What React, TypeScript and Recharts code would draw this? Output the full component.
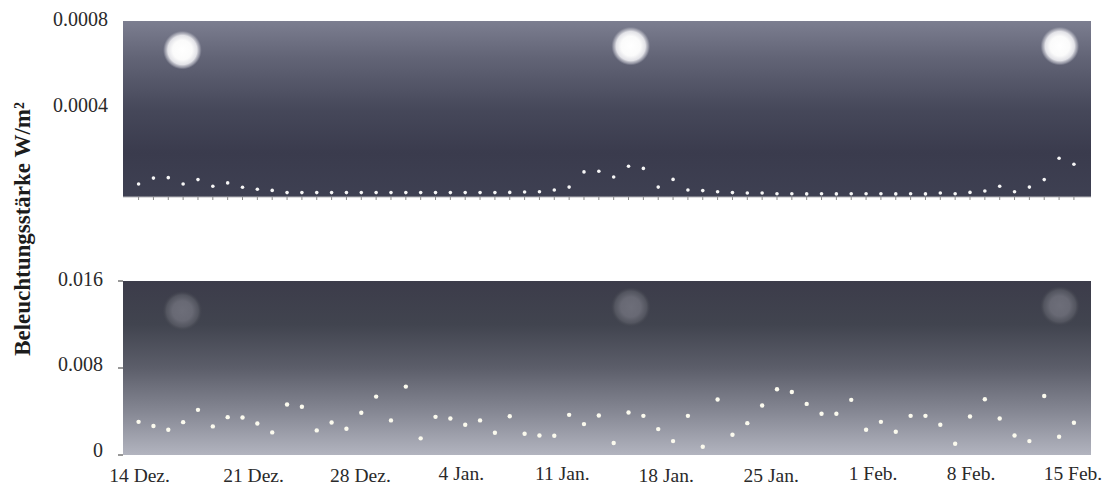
import { ScatterChart, Scatter, XAxis, YAxis, CartesianGrid } from "recharts";

const serif = "'Liberation Serif', serif";

// one reading per day, 14 Dez. to 15 Feb.
const moonlitValues = [
  0.000059, 0.000086, 0.000088, 0.000059, 0.000079, 0.000049, 0.000064, 0.000044, 0.000035, 0.00003,
  0.00002, 0.00002, 0.00002, 0.00002, 0.00002, 0.00002, 0.00002, 0.00002, 0.00002, 0.00002,
  0.00002, 0.00002, 0.00002, 0.00002, 0.00002, 0.000021, 0.000023, 0.000024, 0.000032, 0.000045,
  0.000114, 0.000117, 0.000091, 0.00014, 0.00013, 0.000045, 0.00008, 0.000032, 0.000029, 0.000024,
  0.00002, 0.000018, 0.000018, 0.000015, 0.000015, 0.000014, 0.000015, 0.000014, 0.000015, 0.000015,
  0.000015, 0.000014, 0.000015, 0.000014, 0.000018, 0.000015, 0.000021, 0.000027, 0.000049, 0.000024,
  0.000045, 0.000079, 0.000176, 0.000149,
];
const lowerValues = [
  0.00305, 0.00266, 0.00232, 0.00302, 0.00415, 0.00263, 0.00348, 0.00345, 0.0029, 0.00208,
  0.00464, 0.00443, 0.00226, 0.00299, 0.00241, 0.00388, 0.00537, 0.00318, 0.00629, 0.00153,
  0.00351, 0.00336, 0.00278, 0.00318, 0.00205, 0.00357, 0.00195, 0.0018, 0.00177, 0.00369,
  0.00284, 0.00363, 0.0011, 0.00391, 0.0036, 0.00238, 0.00128, 0.0036, 0.00076, 0.0051,
  0.00186, 0.00293, 0.00455, 0.00604, 0.0058, 0.0047, 0.00379, 0.00379, 0.00507, 0.00232,
  0.00305, 0.00214, 0.0036, 0.0036, 0.00278, 0.00104, 0.00354, 0.00513, 0.00336, 0.0018,
  0.00128, 0.00543, 0.00168, 0.00296,
];

const moonDays = [2.95, 33.15, 62.05];
const moonTopValues = [0.000668, 0.000686, 0.000686];
const moonLowerValues = [0.01325, 0.0136, 0.0137];

const dayTicks = moonlitValues.map((_, i) => i);
const weekTicks = [0, 7, 14, 21, 28, 35, 42, 49, 56, 63];
const weekLabels = ["14 Dez.", "21 Dez.", "28 Dez.", "4 Jan.", "11 Jan.", "18 Jan.", "25 Jan.", "1 Feb.", "8 Feb.", "15 Feb."];
const topYTicks = [0.0004, 0.0008];
const lowerYTicks = [0, 0.008, 0.016];
const dayDomain = [-1.05, 64.15];

// hand placement of the labels in the original
const weekLabelDx = [1, 11, 14, 11, 8, 8, 9, 7, 1, -1];
const weekLabelDy = [0, 0, 0, -2, -2, 0, 0, -2, -2, -2];

const toRows = (values: number[]) => values.map((value, i) => ({ day: i, value }));
const moonRows = (values: number[]) => values.map((value, i) => ({ day: moonDays[i], value }));

function NoLabel() {
  return <g />;
}

function TopYTick({ x, y, payload }: any) {
  const dy = payload.value === 0.0004 ? 3 : 5;
  return (
    <text x={x} y={y + dy} textAnchor="end" fontFamily={serif} fontSize={20} fill="#2a2a2a">
      {payload.value.toFixed(4)}
    </text>
  );
}

function LowerYTick({ x, y, payload }: any) {
  const label = payload.value === 0 ? "0" : payload.value.toFixed(3);
  const dy = payload.value === 0 ? 1.5 : payload.value === 0.008 ? 3 : 5;
  return (
    <text x={x} y={y + dy} textAnchor="end" fontFamily={serif} fontSize={20} fill="#2a2a2a">
      {label}
    </text>
  );
}

function WeekTick({ x, y, index }: any) {
  return (
    <text x={x + weekLabelDx[index]} y={y + 13 + weekLabelDy[index]} textAnchor="middle" fontFamily={serif} fontSize={19.5} fill="#2a2a2a">
      {weekLabels[index]}
    </text>
  );
}

function Dot({ cx, cy }: any) {
  return <circle cx={cx} cy={cy} r={1.8} fill="#f6f6f6" />;
}

function WarmDot({ cx, cy }: any) {
  return <circle cx={cx} cy={cy} r={2.2} fill="#fbfaee" />;
}

function BrightMoon({ cx, cy }: any) {
  return <circle cx={cx} cy={cy} r={19.5} fill="url(#brightMoon)" />;
}

function DimMoon({ cx, cy }: any) {
  return <circle cx={cx} cy={cy} r={20} fill="url(#dimMoon)" />;
}

export default function App() {
  return (
    <div style={{ position: "absolute", left: 0, top: 0, width: 1107, height: 486, background: "#fff" }}>
      <div
        style={{
          position: "absolute",
          left: 23,
          top: 229,
          transform: "translate(-50%, -50%) rotate(-90deg)",
          fontFamily: serif,
          fontWeight: "bold",
          fontSize: 23,
          color: "#1c1c1c",
          whiteSpace: "nowrap",
        }}
      >
        Beleuchtungsstärke W/m²
      </div>

      <div style={{ position: "absolute", left: 0, top: 0 }}>
        <ScatterChart width={1107} height={230} margin={{ top: 21, right: 16, bottom: 3, left: 63 }}>
          <defs>
            <linearGradient id="topSky" x1="0" y1="0" x2="0" y2="1">
              <stop offset="0%" stopColor="#7c7e90" />
              <stop offset="20%" stopColor="#636577" />
              <stop offset="50%" stopColor="#46485a" />
              <stop offset="75%" stopColor="#3a3b4d" />
              <stop offset="100%" stopColor="#3e4052" />
            </linearGradient>
            <radialGradient id="brightMoon">
              <stop offset="0%" stopColor="#ffffff" />
              <stop offset="50%" stopColor="#fbfbfb" />
              <stop offset="75%" stopColor="#e2e2e7" />
              <stop offset="90%" stopColor="#a9aab6" stopOpacity={0.7} />
              <stop offset="100%" stopColor="#8a8c9c" stopOpacity={0} />
            </radialGradient>
          </defs>
          <CartesianGrid horizontal={false} vertical={false} fill="url(#topSky)" />
          <XAxis
            dataKey="day"
            type="number"
            domain={dayDomain}
            ticks={dayTicks}
            interval={0}
            height={30}
            tick={<NoLabel />}
            tickSize={3}
            tickLine={{ stroke: "#8a8a8a" }}
            axisLine={{ stroke: "#b8b8bc" }}
          />
          <YAxis
            dataKey="value"
            type="number"
            domain={[0, 0.0008]}
            ticks={topYTicks}
            interval={0}
            width={60}
            tick={<TopYTick />}
            tickLine={false}
            axisLine={false}
            tickMargin={7}
            tickSize={8}
          />
          <Scatter data={moonRows(moonTopValues)} shape={<BrightMoon />} isAnimationActive={false} />
          <Scatter data={toRows(moonlitValues)} shape={<Dot />} isAnimationActive={false} />
        </ScatterChart>
      </div>

      <div style={{ position: "absolute", left: 0, top: 260 }}>
        <ScatterChart width={1107} height={226} margin={{ top: 21, right: 16, bottom: 0, left: 63 }}>
          <defs>
            <linearGradient id="lowerSky" x1="0" y1="0" x2="0" y2="1">
              <stop offset="0%" stopColor="#3c3c4a" />
              <stop offset="25%" stopColor="#41444f" />
              <stop offset="50%" stopColor="#5c5e6a" />
              <stop offset="75%" stopColor="#858793" />
              <stop offset="100%" stopColor="#b2b4bf" />
            </linearGradient>
            <radialGradient id="dimMoon">
              <stop offset="0%" stopColor="#6d6e79" />
              <stop offset="50%" stopColor="#686974" />
              <stop offset="80%" stopColor="#585a64" stopOpacity={0.8} />
              <stop offset="100%" stopColor="#44464f" stopOpacity={0} />
            </radialGradient>
          </defs>
          <CartesianGrid horizontal={false} vertical={false} fill="url(#lowerSky)" />
          <XAxis
            dataKey="day"
            type="number"
            domain={dayDomain}
            ticks={weekTicks}
            interval={0}
            height={31}
            tick={<WeekTick />}
            tickLine={false}
            axisLine={false}
            tickMargin={8}
          />
          <YAxis
            dataKey="value"
            type="number"
            domain={[0, 0.016]}
            ticks={lowerYTicks}
            interval={0}
            width={60}
            tick={<LowerYTick />}
            tickSize={5}
            tickMargin={15}
            tickLine={{ stroke: "#333" }}
            axisLine={false}
          />
          <Scatter data={moonRows(moonLowerValues)} shape={<DimMoon />} isAnimationActive={false} />
          <Scatter data={toRows(lowerValues)} shape={<WarmDot />} isAnimationActive={false} />
        </ScatterChart>
      </div>
    </div>
  );
}
